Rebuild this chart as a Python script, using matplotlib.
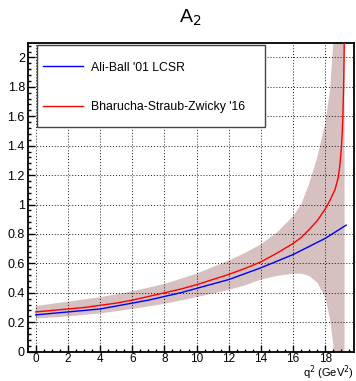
import matplotlib
matplotlib.use("Agg")
import matplotlib.pyplot as plt
from matplotlib.patches import Rectangle
from matplotlib.ticker import MultipleLocator
import numpy as np

plt.rcParams['font.family'] = ['Liberation Sans', 'DejaVu Sans']

# Ali-Ball '01 LCSR
q2_ab = [0, 1, 2, 3, 4, 5, 6, 7, 8, 9, 10, 11, 12, 13, 14, 15, 16, 17, 18, 19.3]
a2_ab = [0.25, 0.26, 0.27, 0.28, 0.29, 0.31, 0.33, 0.35, 0.375, 0.40, 0.43, 0.46,
         0.49, 0.53, 0.57, 0.615, 0.66, 0.715, 0.77, 0.86]

# Bharucha-Straub-Zwicky '16 central
q2_bsz = [0, 1, 2, 3, 4, 5, 6, 7, 8, 9, 10, 11, 12, 13, 14, 15, 16, 16.5, 17, 17.5, 18,
          18.3, 18.6, 18.8, 18.9, 19.0, 19.05, 19.1, 19.15, 19.2]
a2_bsz = [0.27, 0.28, 0.29, 0.30, 0.315, 0.33, 0.35, 0.375, 0.40, 0.425, 0.455, 0.49,
          0.525, 0.565, 0.61, 0.67, 0.735, 0.775, 0.83, 0.89, 0.97,
          1.03, 1.10, 1.18, 1.26, 1.38, 1.48, 1.62, 1.85, 2.25]

# BSZ uncertainty band
q2_band = [0, 2, 4, 6, 8, 10, 12, 13, 14, 15, 16, 16.5, 17, 17.5, 18, 18.3, 18.5, 18.55, 19.2]
band_hi = [0.31, 0.34, 0.37, 0.41, 0.46, 0.53, 0.62, 0.67, 0.73, 0.81, 0.92, 1.0, 1.14,
           1.32, 1.55, 1.78, 2.1, 3.0, 3.0]
band_lo = [0.225, 0.24, 0.26, 0.29, 0.325, 0.37, 0.42, 0.45, 0.49, 0.515, 0.53, 0.53,
           0.515, 0.47, 0.37, 0.22, 0.05, -0.5, -0.5]

labels = ["Ali-Ball '01 LCSR", "Bharucha-Straub-Zwicky '16"]

fig = plt.figure(figsize=(3.56, 3.81), dpi=100)
ax = fig.add_axes([0.0795, 0.077, 0.9155, 0.811])

ax.fill_between(q2_band, band_lo, band_hi, color='#d6c0c0', lw=0, zorder=1)
ax.plot(q2_ab, a2_ab, color='#0000ff', lw=1.0, label=labels[0], zorder=3)
ax.plot(q2_bsz, a2_bsz, color='#ff0000', lw=1.0, label=labels[1], zorder=3)

ax.set_xlim(-0.46, 19.8)
ax.set_ylim(0, 2.1)
ax.xaxis.set_major_locator(MultipleLocator(2))
ax.xaxis.set_minor_locator(MultipleLocator(0.5))
ax.yaxis.set_minor_locator(MultipleLocator(0.04))
ax.set_yticks(np.arange(0, 2.01, 0.2))
ax.set_yticklabels(['0', '0.2', '0.4', '0.6', '0.8', '1', '1.2', '1.4', '1.6', '1.8', '2'])
ax.tick_params(which='both', direction='in', top=False, right=False, labelsize=9, width=1)
ax.tick_params(which='major', length=5, pad=2.5)
ax.tick_params(axis='x', which='major', pad=0.8, labelsize=8.5)
ax.tick_params(which='minor', length=2.5)
ax.grid(True, which='major', color='black', linestyle=(0, (1, 2)), lw=0.7, alpha=0.9)
ax.set_axisbelow(False)
for s in ax.spines.values():
    s.set_linewidth(1.3)

fig.text(0.535, 0.952, r'A$_2$', ha='center', va='center', fontsize=14)
fig.text(0.993, 0.011, r'q$^2$ (GeV$^2$)', ha='right', va='baseline', fontsize=8)

# legend box
rect = Rectangle((0.027, 0.727), 0.699, 0.266, transform=ax.transAxes,
                 facecolor='white', edgecolor='#444444', lw=1.0, zorder=5)
ax.add_patch(rect)
leg = ax.legend(loc='upper left', bbox_to_anchor=(0.045, 0.939), frameon=False,
                fontsize=8.8, handlelength=3.3, handletextpad=0.65, labelspacing=2.24,
                borderpad=0, borderaxespad=0)
leg.set_zorder(6)

fig.savefig('out.png', dpi=100)
